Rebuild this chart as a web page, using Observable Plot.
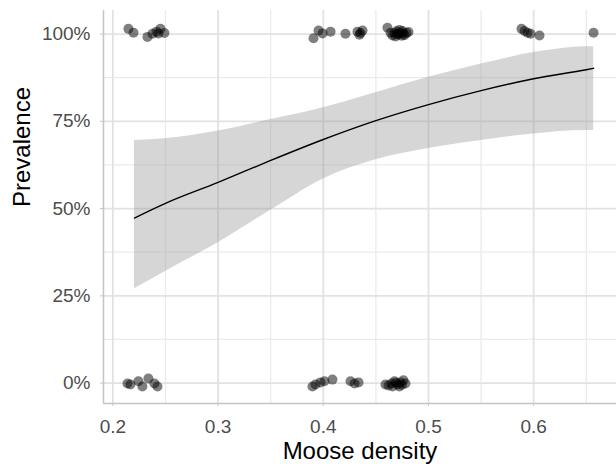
<!DOCTYPE html>
<html>
<head>
<meta charset="utf-8">
<script src="https://cdn.jsdelivr.net/npm/d3@7"></script>
<script src="https://cdn.jsdelivr.net/npm/@observablehq/plot@0.6"></script>
<style>
  html, body { margin: 0; padding: 0; background: #fff; }
  #chart svg { display: block; }
</style>
</head>
<body>
<div id="chart"></div>
<script>
// Fitted curve and confidence band
const fitX  = [0.2205, 0.25, 0.30, 0.35, 0.40, 0.45, 0.50, 0.55, 0.60, 0.65, 0.657];
const fitY  = [0.473, 0.515, 0.575, 0.638, 0.698, 0.752, 0.798, 0.838, 0.872, 0.898, 0.902];
const fitLo = [0.270, 0.320, 0.402, 0.495, 0.585, 0.640, 0.672, 0.695, 0.714, 0.724, 0.724];
const fitHi = [0.695, 0.700, 0.722, 0.755, 0.789, 0.832, 0.876, 0.914, 0.947, 0.964, 0.964];

// Jittered observations (density, prevalence)
const obsX = [
  0.2148, 0.2196, 0.2329, 0.2376, 0.2414, 0.2433, 0.2452, 0.2490,
  0.3907, 0.3955, 0.3993, 0.4069, 0.4211, 0.4325, 0.4354, 0.4373, 0.4344,
  0.4610, 0.4639, 0.4658, 0.4677, 0.4696, 0.4715, 0.4734, 0.4753, 0.4772, 0.4791, 0.4810, 0.4687, 0.4724, 0.4762, 0.4700, 0.4745,
  0.5884, 0.5913, 0.5941, 0.5970, 0.6055, 0.6569,
  0.2139, 0.2167, 0.2243, 0.2281, 0.2338, 0.2395, 0.2424,
  0.3897, 0.3926, 0.3973, 0.4011, 0.4087, 0.4259, 0.4297, 0.4335,
  0.4591, 0.4620, 0.4648, 0.4677, 0.4705, 0.4734, 0.4762, 0.4781, 0.4658, 0.4724, 0.4690, 0.4748
];
const obsY = [
  1.015, 1.004, 0.992, 1.001, 1.007, 1.002, 1.015, 1.003,
  0.988, 1.010, 1.002, 1.007, 1.001, 1.007, 1.003, 1.010, 0.998,
  1.018, 1.004, 0.996, 1.003, 1.008, 0.999, 1.004, 1.009, 0.997, 1.003, 1.006, 0.993, 1.012, 1.001, 1.000, 0.995,
  1.015, 1.009, 1.004, 1.001, 0.996, 1.004,
  -0.001, -0.004, 0.005, -0.010, 0.013, -0.001, -0.010,
  -0.010, -0.004, 0.002, 0.005, 0.010, 0.005, -0.001, 0.002,
  -0.004, -0.007, -0.001, 0.005, -0.004, 0.002, 0.008, -0.001, -0.010, -0.010, 0.001, -0.005
];

// Axes
const xTicks = [0.2, 0.3, 0.4, 0.5, 0.6];
const xMinor = [0.25, 0.35, 0.45, 0.55, 0.65];
const yTicks = [0, 0.25, 0.5, 0.75, 1];
const yMinor = [0.125, 0.375, 0.625, 0.875];
const xDomain = [0.1911, 0.6787];
const yDomain = [-0.0585, 1.0676];
const xTitle = "Moose density";
const yTitle = "Prevalence";

const fit = fitX.map((x, i) => ({x, y: fitY[i], lo: fitLo[i], hi: fitHi[i]}));
const obs = obsX.map((x, i) => ({x, y: obsY[i]}));

const font = "'Liberation Sans', Arial, sans-serif";

const chart = Plot.plot({
  width: 616,
  height: 466,
  marginLeft: 103,
  marginRight: 0,
  marginTop: 10,
  marginBottom: 63,
  style: {fontFamily: font, background: "#fff"},
  x: {domain: xDomain},
  y: {domain: yDomain},
  marks: [
    Plot.ruleX(xMinor, {stroke: "#ebebeb", strokeWidth: 1.3}),
    Plot.ruleY(yMinor, {stroke: "#ebebeb", strokeWidth: 1.3}),
    Plot.ruleX(xTicks, {stroke: "#e2e2e2", strokeWidth: 1.8}),
    Plot.ruleY(yTicks, {stroke: "#e2e2e2", strokeWidth: 1.8}),
    Plot.ruleX([xDomain[0]], {stroke: "#c4c4c4", strokeWidth: 1.5}),
    Plot.ruleY([yDomain[0]], {stroke: "#c4c4c4", strokeWidth: 1.5}),
    Plot.areaY(fit, {x: "x", y1: "lo", y2: "hi", fill: "#999999", fillOpacity: 0.4, curve: "monotone-x"}),
    Plot.line(fit, {x: "x", y: "y", stroke: "#000", strokeWidth: 1.4, curve: "monotone-x"}),
    Plot.dot(obs, {x: "x", y: "y", r: 5, fill: "#000", fillOpacity: 0.5, stroke: "none"}),
    Plot.axisX({ticks: xTicks, tickSize: 3, tickPadding: 13, tickFormat: d => d.toFixed(1),
      fontSize: 19, color: "#4d4d4d", stroke: "#c4c4c4", label: null}),
    Plot.axisY({ticks: yTicks, tickSize: 3, tickPadding: 10, tickFormat: d => Math.round(d * 100) + "%",
      fontSize: 19, color: "#4d4d4d", stroke: "#c4c4c4", label: null}),
    Plot.text([xTitle], {frameAnchor: "bottom", dy: 48, fontSize: 24, fill: "#000", lineAnchor: "middle"}),
    Plot.text([yTitle], {frameAnchor: "left", dx: -81, rotate: -90, fontSize: 24, fill: "#000", lineAnchor: "middle"})
  ]
});
document.getElementById("chart").appendChild(chart);
</script>
</body>
</html>
